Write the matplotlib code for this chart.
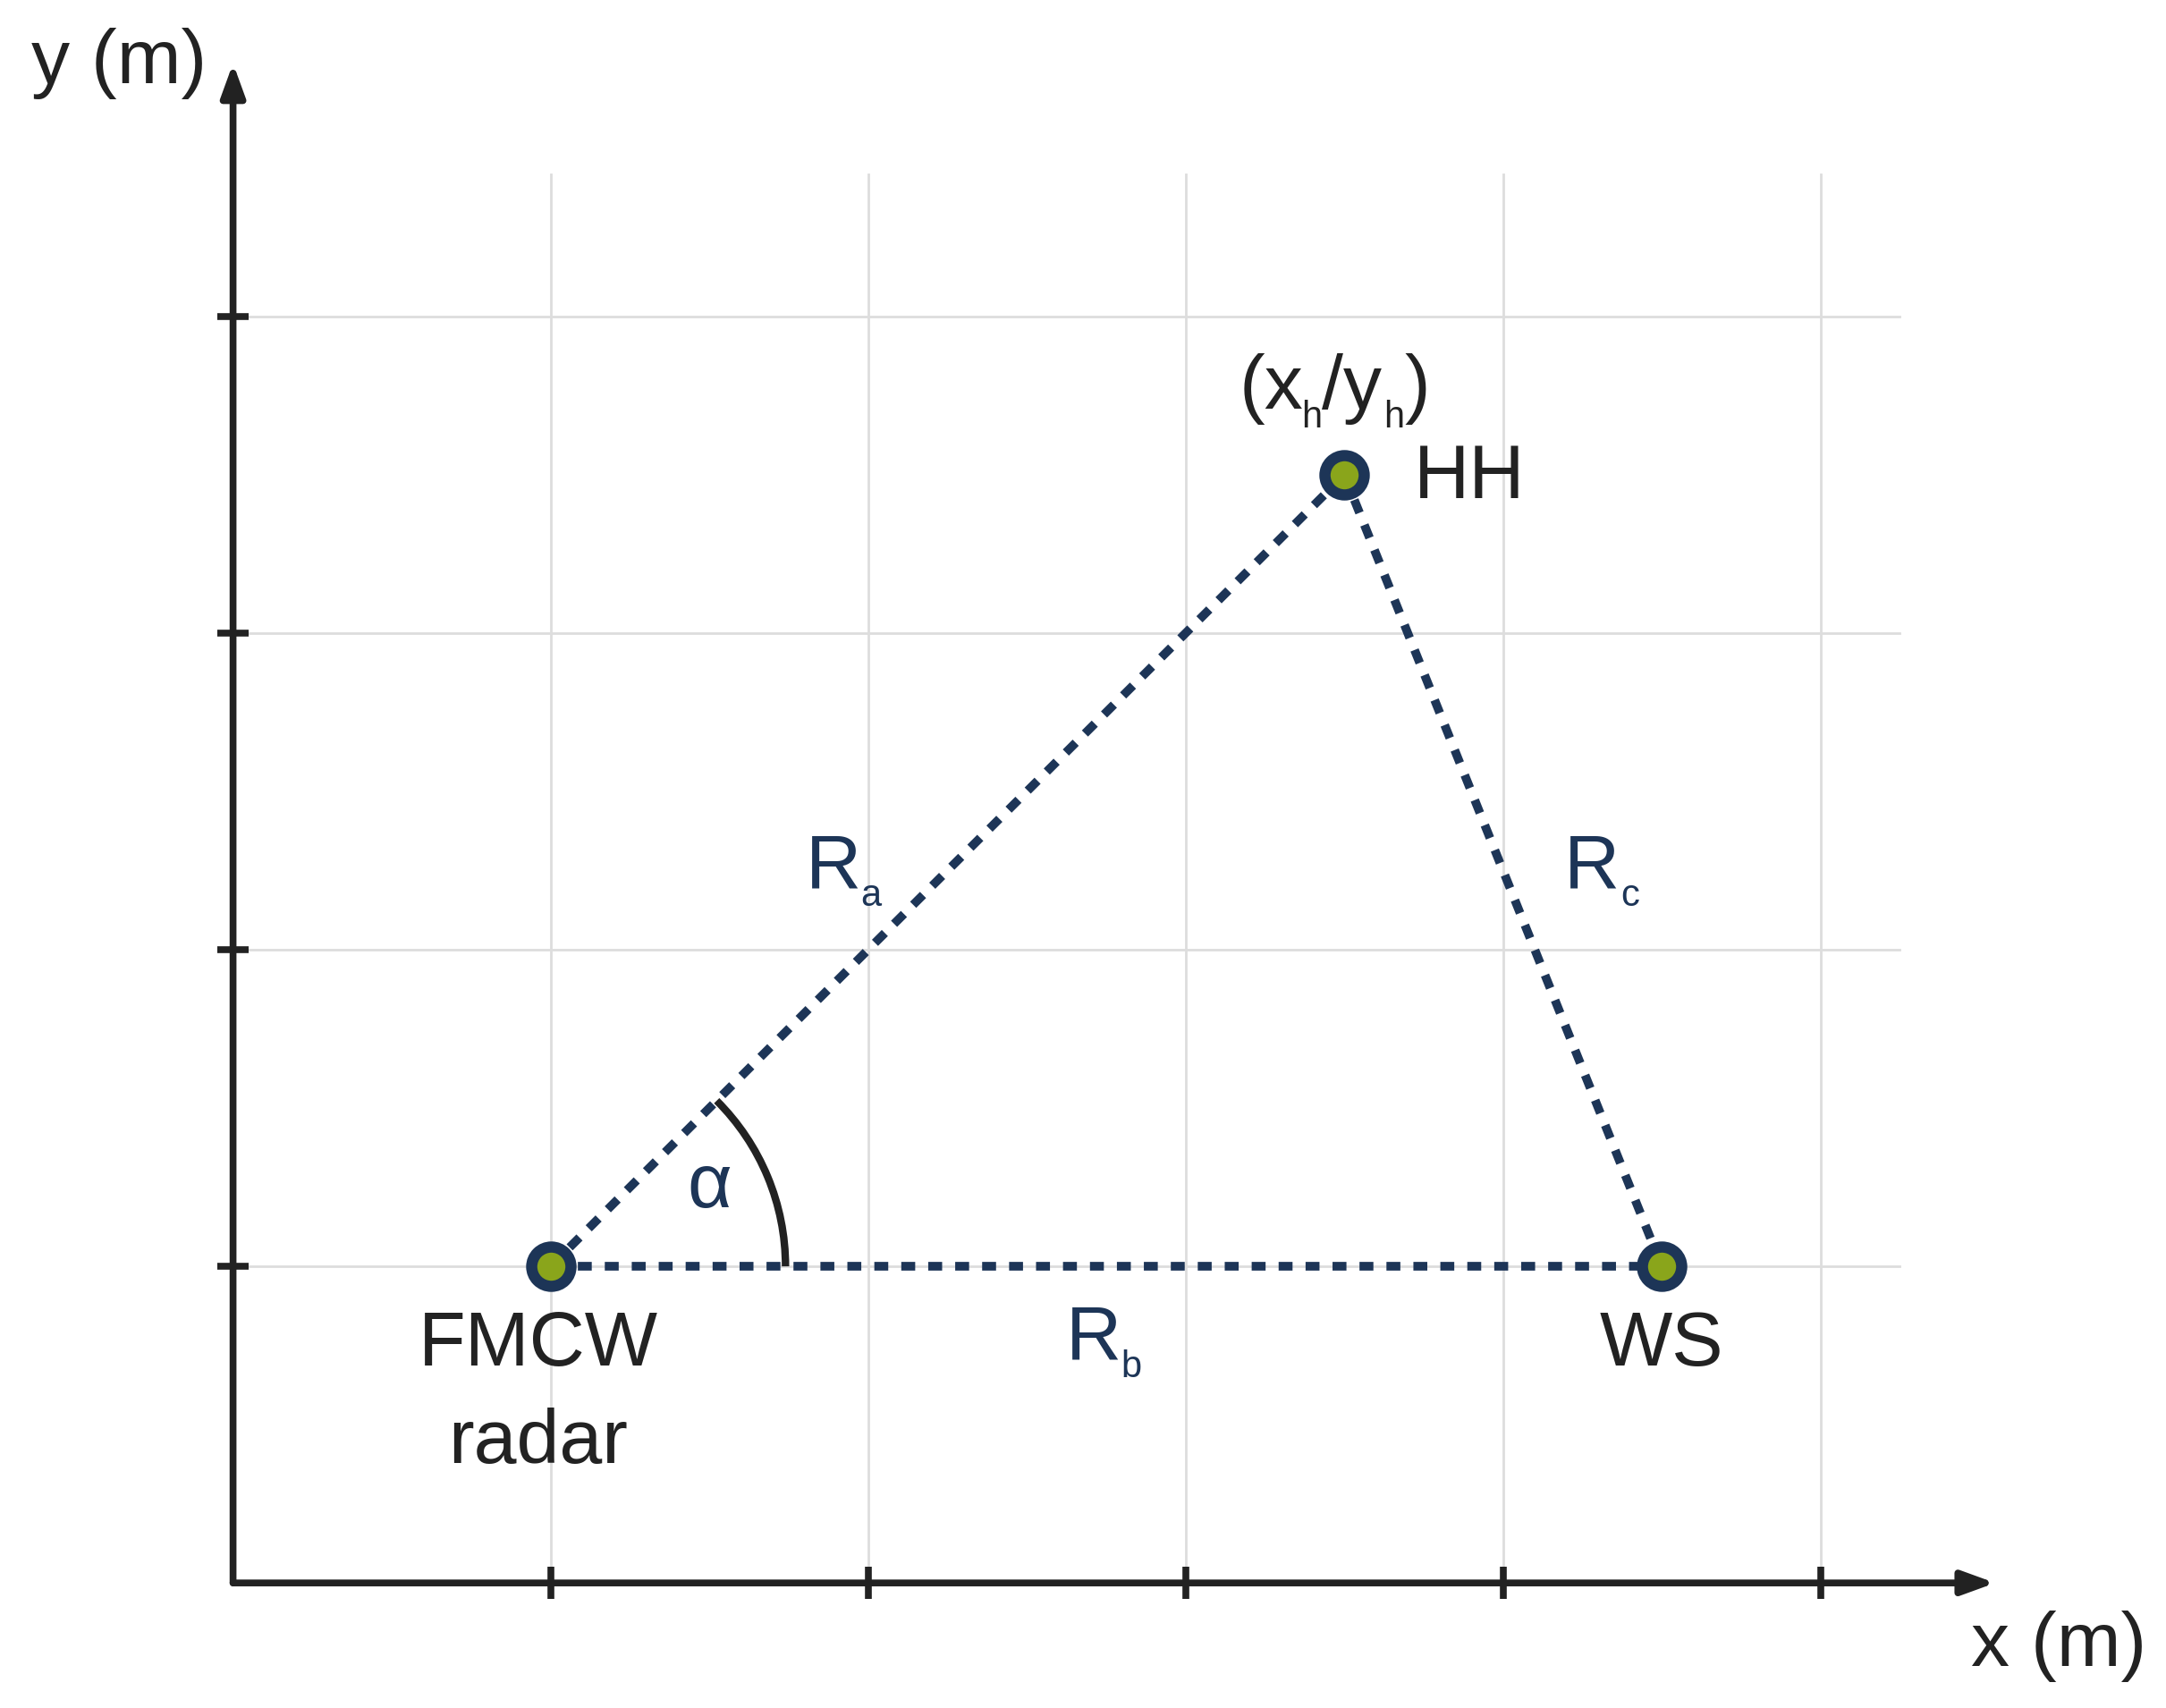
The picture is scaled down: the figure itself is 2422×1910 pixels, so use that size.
import matplotlib
matplotlib.use("Agg")
import matplotlib.pyplot as plt
from matplotlib.patches import Arc

plt.rcParams['font.family'] = ['Liberation Sans', 'DejaVu Sans']

grid_x = [1, 2, 3, 4, 5]
grid_y = [1, 2, 3, 4]
names = ["FMCW\nradar", "HH", "WS"]
px = [1.0, 3.5, 4.5]
py = [1.0, 3.5, 1.0]

navy = "#1d3557"
green = "#8aa51b"
dark = "#222222"
FS = 62
SUB = 30

fig = plt.figure(figsize=(24.22, 19.10), dpi=100)
ax = fig.add_axes([0, 0, 1, 1])
ax.set_xlim(-0.734, 6.088)
ax.set_ylim(-0.395, 5.0)
ax.axis('off')

for gx in grid_x:
    ax.plot([gx, gx], [0, 4.45], color="#dddddd", lw=2, zorder=0)
for gy in grid_y:
    ax.plot([0, 5.25], [gy, gy], color="#dddddd", lw=2, zorder=0)

# axes
aprops = dict(arrowstyle="-|>,head_length=2.2,head_width=0.8", lw=5.5, color=dark, shrinkA=0, shrinkB=0)
ax.annotate("", xy=(5.55, 0), xytext=(0, 0), arrowprops=aprops)
ax.annotate("", xy=(0, 4.8), xytext=(0, 0), arrowprops=aprops)
for gx in grid_x:
    ax.plot([gx, gx], [-0.05, 0.05], color=dark, lw=5.5, solid_capstyle='butt')
for gy in grid_y:
    ax.plot([-0.05, 0.05], [gy, gy], color=dark, lw=5.5, solid_capstyle='butt')

ax.text(-0.36, 4.80, "y (m)", fontsize=FS, color=dark, ha='center', va='center')
ax.text(5.75, -0.2, "x (m)", fontsize=FS, color=dark, ha='center', va='center')

# triangle edges
ls = (0, (1.6, 1.5))
for (i, j) in [(0, 1), (1, 2), (0, 2)]:
    ax.plot([px[i], px[j]], [py[i], py[j]], color=navy, lw=7, linestyle=ls, zorder=2)

ax.add_patch(Arc((px[0], py[0]), 1.48, 1.48, theta1=0, theta2=45, color=dark, lw=6, zorder=3))

ax.scatter(px, py, s=1000, facecolor=green, edgecolor=navy, linewidths=9, zorder=4)

ax.text(0.96, 0.75, "FMCW", fontsize=FS, color=dark, ha='center', va='center')
ax.text(0.96, 0.44, "radar", fontsize=FS, color=dark, ha='center', va='center')
ax.text(4.5, 0.75, "WS", fontsize=FS, color=dark, ha='center', va='center')
ax.text(3.72, 3.49, "HH", fontsize=FS, color=dark, ha='left', va='center')

# (x_h/y_h)
ax.text(3.17, 3.77, "(x", fontsize=FS, color=dark, ha='left', va='center')
ax.text(3.365, 3.68, "h", fontsize=SUB, color=dark, ha='left', va='center')
ax.text(3.43, 3.77, "/y", fontsize=FS, color=dark, ha='left', va='center')
ax.text(3.625, 3.68, "h", fontsize=SUB, color=dark, ha='left', va='center')
ax.text(3.69, 3.77, ")", fontsize=FS, color=dark, ha='left', va='center')

def rlabel(x, y, sub):
    ax.text(x, y, "R", fontsize=FS, color=navy, ha='center', va='center')
    ax.text(x + 0.12, y - 0.09, sub, fontsize=SUB, color=navy, ha='center', va='center')

rlabel(1.89, 2.26, "a")
rlabel(4.28, 2.26, "c")
rlabel(2.71, 0.77, "b")
ax.text(1.5, 1.25, "α", fontsize=FS, color=navy, ha='center', va='center')

fig.savefig("out.png", dpi=100)
